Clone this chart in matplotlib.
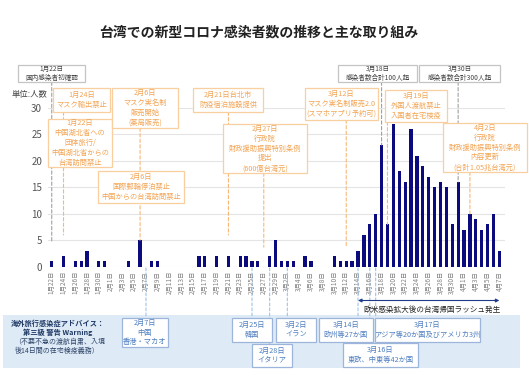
import matplotlib
matplotlib.use('Agg')
import matplotlib.pyplot as plt
import matplotlib.transforms as mtransforms
from matplotlib.patches import Rectangle, ConnectionPatch, FancyArrowPatch
import pandas as pd

plt.rcParams['font.family'] = ['Noto Sans CJK JP', 'DejaVu Sans']

# ---------------- data ----------------
dates = pd.date_range('2020-01-22', '2020-04-07', freq='D')
date_labels = [f"{d.month}月{d.day}日" for d in dates]
new_cases = [1, 0, 2, 0, 1, 1, 3, 0, 1, 1,            # 1/22-1/31
             0, 0, 0, 1, 0, 5, 0, 1, 1, 0,            # 2/1-2/10
             0, 0, 0, 0, 0, 2, 2, 0, 2, 0,            # 2/11-2/20
             2, 0, 2, 2, 1, 1, 0, 2, 5,               # 2/21-2/29
             1, 1, 1, 0, 2, 1, 0, 0, 0, 2,            # 3/1-3/10
             1, 1, 1, 3, 6, 8, 10, 23, 8, 27,         # 3/11-3/20
             18, 16, 26, 21, 19, 17, 15, 16, 15, 8,   # 3/21-3/30
             16,                                      # 3/31
             7, 10, 9, 7, 8, 10, 3]                   # 4/1-4/7
title = "台湾での新型コロナ感染者数の推移と主な取り組み"
y_unit = "単位:人数"

W, H = 529, 380
fig = plt.figure(figsize=(W / 100, H / 100), dpi=100)
fig.patch.set_facecolor('white')

def fx(px):
    return px / W

def fy(py):
    return 1 - py / H

NAVY = '#0b0b7d'
ORANGE_T = '#f2a454'
ORANGE_E = '#f9cf9f'
ORANGE_L = '#f7b877'
GRAY_E = '#c4c4c4'
GRAY_T = '#444444'
BLUE_T = '#4f7fc0'
BLUE_E = '#9db5da'
BLUE_L = '#9cc3ea'
PANEL = '#deebf7'

# ---------------- axes ----------------
ax = fig.add_axes([0.090, 0.2982, 0.864, 0.4176])
x = list(range(len(new_cases)))
ax.bar(x, new_cases, width=0.55, color=NAVY, zorder=3)
ax.set_xlim(-0.7, 76.9)
ax.set_ylim(0, 30)
ax.set_yticks(range(0, 31, 5))
ax.grid(axis='y', color='#e4e4e4', lw=0.8)
ax.set_axisbelow(True)
for s in ax.spines.values():
    s.set_visible(False)
ax.set_xticks(x[::2])
ax.set_xticklabels(date_labels[::2], rotation=90, fontsize=4.6, color='#808080')
ax.tick_params(axis='both', length=0)
ax.tick_params(axis='x', pad=3)
ax.tick_params(axis='y', labelsize=7, labelcolor='#555555', pad=4)

fig.text(fx(12), fy(94), y_unit, fontsize=6, color='#444444', ha='left', va='center')
fig.text(fx(259), fy(32), title, fontsize=10, fontweight='bold', color='#222222',
         ha='center', va='center')

blend = mtransforms.blended_transform_factory(ax.transData, fig.transFigure)

def vline(day, ytop_px, end, color, to_data=True, dash=(3, 2), lw=0.8):
    if to_data:
        con = ConnectionPatch(xyA=(day, fy(ytop_px)), coordsA=blend,
                              xyB=(day, end), coordsB=ax.transData,
                              color=color, lw=lw, linestyle=(0, dash), zorder=2)
    else:
        con = ConnectionPatch(xyA=(day, fy(ytop_px)), coordsA=blend,
                              xyB=(day, fy(end)), coordsB=blend,
                              color=color, lw=lw, linestyle=(0, dash), zorder=2)
    fig.add_artist(con)

def box(x0, y0, x1, y1, text, ec, tc, fs, face='white', ls=1.3, weight='normal'):
    fig.add_artist(Rectangle((fx(x0), fy(y1)), fx(x1) - fx(x0), fy(y0) - fy(y1),
                             transform=fig.transFigure, facecolor=face,
                             edgecolor=ec, lw=0.9, zorder=5))
    fig.text(fx((x0 + x1) / 2), fy((y0 + y1) / 2), text, ha='center', va='center',
             color=tc, fontsize=fs, linespacing=ls, zorder=6, fontweight=weight)

# ---------------- gray milestone boxes ----------------
vline(0, 82, 4.7, '#a0a0a0')
vline(56, 82, new_cases[56], '#a0a0a0')
vline(69, 82, new_cases[69], '#a0a0a0')
box(18, 65, 85, 82, "1月22日\n国内感染者初確認", GRAY_E, GRAY_T, 4.8, ls=1.2)
box(338, 65, 417, 82, "3月18日\n感染者数合計100人超", GRAY_E, GRAY_T, 4.8, ls=1.2)
box(419, 65, 500, 82, "3月30日\n感染者数合計300人超", GRAY_E, GRAY_T, 4.8, ls=1.2)

# ---------------- orange measure boxes ----------------
vline(2, 112, 6.0, ORANGE_L)
vline(15, 128, new_cases[15], ORANGE_L)
vline(30, 112, 6.0, ORANGE_L)
vline(36, 173, 3.7, ORANGE_L)
vline(50, 120, 4.0, ORANGE_L)
vline(57, 122, new_cases[57], ORANGE_L)
vline(71, 172, new_cases[71], ORANGE_L)

box(53, 88, 110, 112, "1月24日\nマスク輸出禁止", ORANGE_E, ORANGE_T, 5.2)
box(48, 119, 112, 167, "1月22日\n中国湖北省への\n団体旅行/\n中国湖北省からの\n台湾訪問禁止",
    ORANGE_E, ORANGE_T, 5.2)
box(112, 88, 178, 128, "2月6日\nマスク実名制\n販売開始\n(薬局販売)", ORANGE_E, ORANGE_T, 5.2)
box(98, 171, 184, 203, "2月6日\n国際郵輪停泊禁止\n中国からの台湾訪問禁止", ORANGE_E, ORANGE_T, 5.2)
box(193, 88, 263, 112, "2月21日台北市\n防疫宿泊施設提供", ORANGE_E, ORANGE_T, 5.2)
box(223, 124, 307, 173, "2月27日\n行政院\n財政援助振興特別条例\n提出\n(600億台湾元)",
    ORANGE_E, ORANGE_T, 5.2)
box(305, 88, 378, 120, "3月12日\nマスク実名制販売2.0\n(スマホアプリ予約可)", ORANGE_E, ORANGE_T, 5.2)
box(385, 90, 447, 122, "3月19日\n外国人渡航禁止\n入国者在宅検疫", ORANGE_E, ORANGE_T, 5.2)
box(443, 123, 527, 172, "4月2日\n行政院\n財政援助振興特別条例\n内容更新\n(合計1.05兆台湾元)",
    ORANGE_E, ORANGE_T, 5.2)

# ---------------- arrow ----------------
arr = FancyArrowPatch(posA=(52, fy(300.5)), posB=(76, fy(300.5)), transform=blend,
                      arrowstyle='<|-|>', mutation_scale=5, color='#1f3a8a', lw=0.8,
                      shrinkA=0, shrinkB=0, zorder=4)
fig.add_artist(arr)
fig.text(fx(432), fy(310), "欧米感染拡大後の台湾帰国ラッシュ発生", fontsize=5.5,
         color='#222222', ha='center', va='center', zorder=6)

# ---------------- travel advisory panel ----------------
fig.add_artist(Rectangle((fx(3), fy(368)), fx(520) - fx(3), fy(315) - fy(368),
                         transform=fig.transFigure, facecolor=PANEL, edgecolor='none',
                         zorder=1))
fig.text(fx(58), fy(323), "海外旅行感染症アドバイス：", fontsize=5.2, fontweight='bold',
         color='#1f3864', ha='center', va='center', zorder=6)
fig.text(fx(58), fy(332), "第三級 警告 Warning", fontsize=5.2, fontweight='bold',
         color='#1f3864', ha='center', va='center', zorder=6)
fig.text(fx(60), fy(342), "（不要不急の渡航自粛、入境", fontsize=5.0,
         color='#2f4468', ha='center', va='center', zorder=6)
fig.text(fx(57), fy(350.5), "後14日間の在宅検疫義務）", fontsize=5.0,
         color='#2f4468', ha='center', va='center', zorder=6)

for day, ybot in [(16, 318), (34, 318), (37, 344), (40, 318), (52, 318), (54, 343), (55, 318)]:
    vline(day, 268, ybot, BLUE_L, to_data=False, dash=(2.5, 2), lw=0.8)

box(122, 318, 168, 347, "2月7日\n中国\n香港・マカオ", BLUE_E, BLUE_T, 5.2)
box(232, 318, 272, 342, "2月25日\n韓国", BLUE_E, BLUE_T, 5.2)
box(252, 344, 292, 367, "2月28日\nイタリア", BLUE_E, BLUE_T, 5.2)
box(276, 318, 316, 342, "3月2日\nイラン", BLUE_E, BLUE_T, 5.2)
box(319, 318, 373, 342, "3月14日\n欧州等27か国", BLUE_E, BLUE_T, 5.2)
box(375, 318, 480, 342, "3月17日\nアジア等20か国及びアメリカ3州", BLUE_E, BLUE_T, 5.2)
box(343, 343, 418, 367, "3月16日\n東欧、中東等42か国", BLUE_E, BLUE_T, 5.2)

fig.savefig('out.png', dpi=100, facecolor='white')
